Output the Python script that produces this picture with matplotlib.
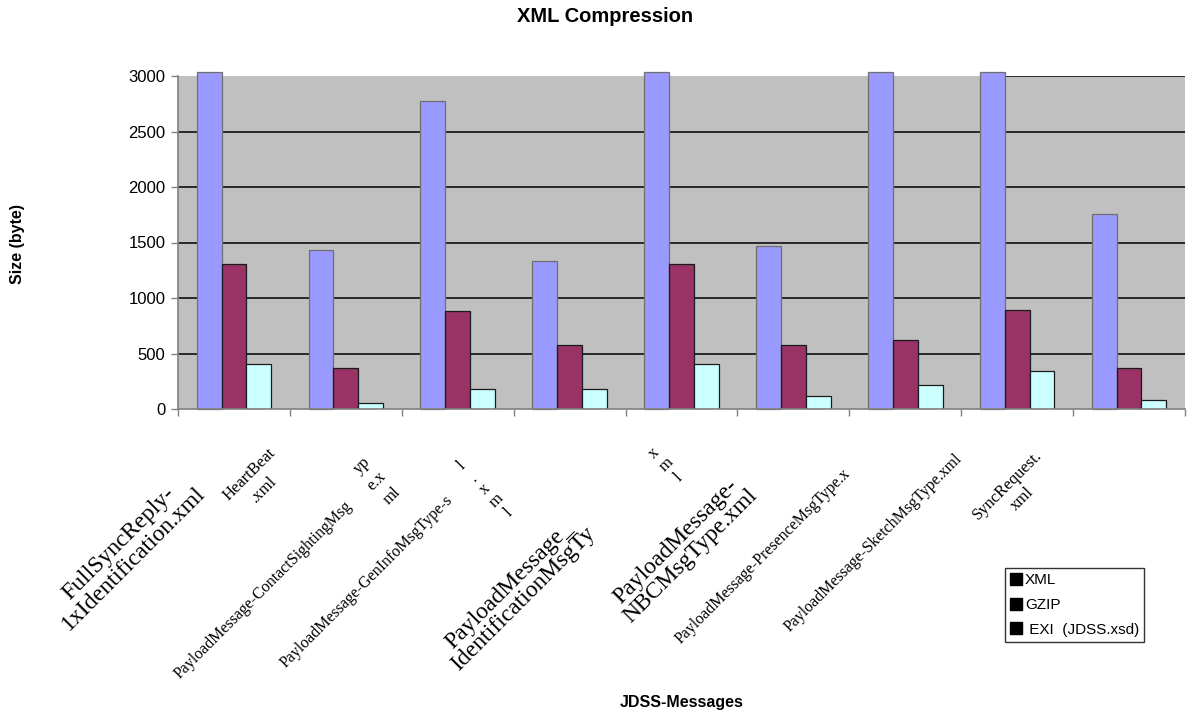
import numpy as np
import matplotlib.pyplot as plt
from matplotlib.lines import Line2D

# =========================
# DATA (bytes per message)
# =========================
messages = [
    "FullSyncReply-1xIdentification.xml",
    "HeartBeat.xml",
    "PayloadMessage-ContactSightingMsgType.xml",
    "PayloadMessage-GenInfoMsgType.xml",
    "PayloadMessage-IdentificationMsgType.xml",
    "PayloadMessage-NBCMsgType.xml",
    "PayloadMessage-PresenceMsgType.xml",
    "PayloadMessage-SketchMsgType.xml",
    "SyncRequest.xml",
]
xml_size = [3600, 1434, 2772, 1335, 3600, 1464, 3400, 3800, 1755]
gzip_size = [1305, 366, 882, 576, 1305, 576, 624, 891, 369]
exi_size = [405, 54, 180, 180, 405, 117, 216, 342, 81]

series_names = ["XML", "GZIP", " EXI  (JDSS.xsd)"]
y_ticks = [0, 500, 1000, 1500, 2000, 2500, 3000]

# category labels as wrapped by the spreadsheet
tick_text = [
    "FullSyncReply-\n1xIdentification.xml",
    "HeartBeat\n.xml",
    "PayloadMessage-ContactSightingMsg",
    "yp\ne.x\nml",
    "PayloadMessage-GenInfoMsgType-s",
    "l\n.\nx\nm\nl",
    "PayloadMessage_\nIdentificationMsgTy",
    "x\nm\nl",
    "PayloadMessage-\nNBCMsgType.xml",
    "PayloadMessage-PresenceMsgType.x",
    "PayloadMessage-SketchMsgType.xml",
    "SyncRequest.\nxml",
]

# =========================
# LAYOUT
# =========================
W, H = 1187, 714
label_pos = [  # (x px, y px, size, linespacing)
    (126, 551, 17, 0.95),
    (257, 482, 12, 1.35),
    (263, 590, 11.5, 1.2),
    (377, 481, 12, 1.45),
    (367, 582, 11.5, 1.2),
    (485, 489, 12, 1.05),
    (516, 592, 17, 0.95),
    (666, 465, 12, 1.1),
    (683, 549, 17, 0.95),
    (763, 556, 11.5, 1.2),
    (873, 543, 11.5, 1.2),
    (1015, 492, 12, 1.35),
]

sans = "Liberation Sans"
serif = "Liberation Serif"
colors = ["#9999FF", "#993366", "#CCFFFF"]
edges = ["#707070", "#1a1a1a", "#1a1a1a"]


def fx(px):
    return px / W


def fy(py):
    return 1 - py / H


fig = plt.figure(figsize=(W / 100, H / 100), dpi=100)
ax = fig.add_axes([fx(178), fy(409), fx(1185) - fx(178), fy(76) - fy(409)])
ax.set_facecolor("#C0C0C0")

x = np.arange(len(messages))
width = 0.222
top = y_ticks[-1]
overflow = 36  # bars above the axis max poke out a little

for i in y_ticks[1:-1]:
    ax.axhline(i, color="black", lw=1.1, zorder=1)

xml_bars = ax.bar(x - width, np.minimum(xml_size, top + overflow), width,
                  color=colors[0], edgecolor=edges[0], lw=0.9, zorder=2,
                  clip_on=False)
ax.bar(x, gzip_size, width, color=colors[1], edgecolor=edges[1], lw=0.9, zorder=2)
ax.bar(x + width, exi_size, width, color=colors[2], edgecolor=edges[2], lw=0.9, zorder=2)

# top border only after the last overflowing bar
over = [b for b, v in zip(xml_bars, xml_size) if v > top]
x0 = over[-1].get_x() + over[-1].get_width()
ax.hlines(top, x0, len(messages) - 0.5, color="#202020", lw=1.3, zorder=1)

ax.set_xlim(-0.5, len(messages) - 0.5)
ax.set_ylim(0, top)
ax.set_yticks(y_ticks)
ax.set_yticklabels([str(v) for v in y_ticks], fontsize=12, family=sans)
ax.set_xticks(np.arange(-0.5, len(messages)))
ax.set_xticklabels([])
ax.tick_params(axis="both", direction="out", length=5, color="#808080", width=1)
ax.tick_params(axis="y", pad=4)

for side in ["top", "right"]:
    ax.spines[side].set_visible(False)
for side in ["left", "bottom"]:
    ax.spines[side].set_color("#808080")
    ax.spines[side].set_linewidth(1.2)

for text, (px, py, size, ls) in zip(tick_text, label_pos):
    fig.text(fx(px), fy(py), text, rotation=45, ha="center", va="center",
             multialignment="center", fontsize=size, family=serif,
             linespacing=ls)

fig.text(fx(605), fy(17), "XML Compression", ha="center", va="center",
         fontsize=14.5, fontweight="bold", family=sans)
fig.text(fx(18), fy(244), "Size (byte)", ha="center", va="center",
         rotation=90, fontsize=11.5, fontweight="bold", family=sans)
fig.text(fx(682), fy(703), "JDSS-Messages", ha="center", va="center",
         fontsize=11.5, fontweight="bold", family=sans)

handles = [Line2D([], [], marker="s", color="black", linestyle="none",
                  markersize=9) for _ in series_names]
leg = fig.legend(handles, series_names, loc="upper left",
                 bbox_to_anchor=(fx(1005), fy(568)), frameon=True,
                 fancybox=False, prop={"family": sans, "size": 11},
                 handlelength=0.8, handletextpad=0.15, labelspacing=0.7,
                 borderpad=0.35, borderaxespad=0)
leg.get_frame().set_edgecolor("black")
leg.get_frame().set_linewidth(1)

fig.savefig("out.png", dpi=100)
